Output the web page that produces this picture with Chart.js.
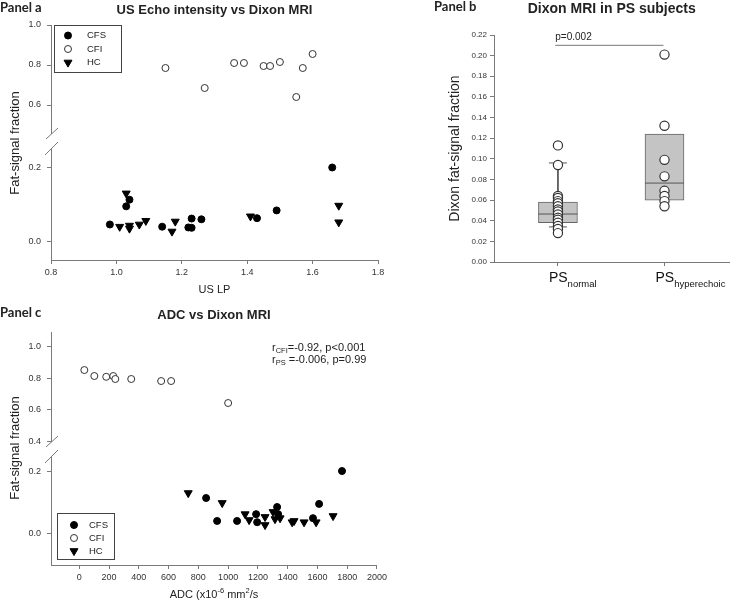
<!DOCTYPE html>
<html>
<head>
<meta charset="utf-8">
<title>US echo intensity, ADC and Dixon MRI</title>
<script src="https://cdn.jsdelivr.net/npm/chart.js@4.4.1/dist/chart.umd.min.js"></script>
<style>
  body { margin: 0; background: #fff; }
  #page { position: relative; width: 750px; height: 603px; overflow: hidden; }
  canvas { position: absolute; }
  #chartA { left: 0; top: 0; }
  #chartB { left: 380px; top: 0; }
  #chartC { left: 0; top: 305px; }
</style>
</head>
<body>
<div id="page">
  <canvas id="chartA" width="390" height="305"></canvas>
  <canvas id="chartB" width="370" height="300"></canvas>
  <canvas id="chartC" width="390" height="298"></canvas>
</div>
<script>
// ---- data ----

// panel a: US LP vs fat-signal fraction
let aCfsX = [0.98, 1.03, 1.04, 1.14, 1.22, 1.23, 1.23, 1.26, 1.43, 1.49, 1.66];
let aCfsY = [0.046, 0.095, 0.113, 0.040, 0.038, 0.037, 0.062, 0.060, 0.063, 0.084, 0.200];
let aCfiX = [1.15, 1.27, 1.36, 1.39, 1.45, 1.47, 1.50, 1.55, 1.57, 1.60];
let aCfiY = [0.785, 0.685, 0.81, 0.81, 0.795, 0.795, 0.815, 0.64, 0.785, 0.855];
let aHcX = [1.01, 1.03, 1.04, 1.04, 1.07, 1.09, 1.17, 1.18, 1.41, 1.68, 1.68];
let aHcY = [0.040, 0.130, 0.043, 0.035, 0.046, 0.056, 0.027, 0.054, 0.068, 0.097, 0.052];
let aXTicks = [0.8, 1.0, 1.2, 1.4, 1.6, 1.8];
let aYTicksHigh = [0.6, 0.8, 1.0];
let aYTicksLow = [0.0, 0.2];

// panel b: Dixon fat-signal fraction in PS subjects
let bGroups = ["normal", "hyperechoic"];
let bNormal = [0.113, 0.094, 0.064, 0.062, 0.059, 0.057, 0.054, 0.051, 0.049, 0.046, 0.043, 0.041, 0.038, 0.035, 0.032, 0.028];
let bHyper = [0.201, 0.132, 0.099, 0.083, 0.069, 0.064, 0.059, 0.054];
let bQ1 = [0.038, 0.060];
let bQ3 = [0.058, 0.124];
let bMedian = [0.0465, 0.0765];
let bWhiskLo = [0.034, null];
let bWhiskHi = [0.096, null];
let bPText = "p=0.002";
let bPLineX = [0.975, 1.99];
let bPLineY = 0.21;
let bYTicks = [0, 0.02, 0.04, 0.06, 0.08, 0.10, 0.12, 0.14, 0.16, 0.18, 0.20, 0.22];

// panel c: ADC vs fat-signal fraction
let cCfsX = [852, 926, 1060, 1188, 1195, 1329, 1336, 1570, 1611, 1765];
let cCfsY = [0.113, 0.039, 0.039, 0.061, 0.035, 0.084, 0.061, 0.048, 0.094, 0.200];
let cCfiX = [34, 101, 181, 228, 242, 349, 550, 617, 1000];
let cCfiY = [0.853, 0.815, 0.81, 0.815, 0.796, 0.796, 0.783, 0.783, 0.643];
let cHcX = [732, 960, 1114, 1141, 1248, 1248, 1302, 1315, 1349, 1430, 1443, 1510, 1591, 1705];
let cHcY = [0.129, 0.097, 0.061, 0.042, 0.052, 0.026, 0.068, 0.045, 0.048, 0.035, 0.039, 0.035, 0.035, 0.055];
let cXTicks = [0, 200, 400, 600, 800, 1000, 1200, 1400, 1600, 1800, 2000];
let cYTicksHigh = [0.4, 0.6, 0.8, 1.0];
let cYTicksLow = [0.0, 0.2];

// ---- styles ----
const SANS = "'Liberation Sans', Arial, sans-serif";
const AXIS = "#7a7a7a";
Chart.defaults.font.family = SANS;
Chart.defaults.color = "#333";
Chart.defaults.animation = false;

const marks = {
   cfs: { pointStyle: "circle", pointRadius: 3.5, backgroundColor: "#000", borderColor: "#000", borderWidth: 1 },
   cfi: { pointStyle: "circle", pointRadius: 3.5, backgroundColor: "#fff", borderColor: "#333", borderWidth: 1 },
   hc: { pointStyle: "triangle", pointRotation: 180, pointRadius: 4.6, backgroundColor: "#000", borderColor: "#000", borderWidth: 1 },
};

let pairs = (xs, ys) => xs.map((x, i) => ({ x: x, y: ys[i] }));

// linear axis with outward tick marks and fixed size
function linAxis(o) {
   return {
      type: "linear",
      position: o.position,
      min: o.min,
      max: o.max,
      stack: o.stack,
      stackWeight: o.weight,
      offset: false,
      border: { color: AXIS, width: 1 },
      grid: { drawOnChartArea: false, drawTicks: true, tickLength: 4, color: AXIS, tickColor: AXIS, offset: false },
      ticks: {
         display: o.labels !== false,
         autoSkip: false,
         maxRotation: 0,
         padding: o.pad === undefined ? 3 : o.pad,
         font: { size: o.fs || 9 },
         color: "#333",
         callback: o.fmt,
      },
      title: o.title || { display: false },
      afterBuildTicks: (scale) => {
         scale.ticks = o.ticks.map((v) => ({ value: v }));
      },
      afterFit: (scale) => {
         if (o.position === "left") scale.width = o.size;
         else scale.height = o.size;
      },
   };
}

// text with optional sub/superscript parts
function drawRich(ctx, parts, x, y, align, rotate) {
   ctx.save();
   ctx.translate(x, y);
   if (rotate) ctx.rotate(rotate);
   ctx.textBaseline = "middle";
   ctx.textAlign = "left";
   let total = 0;
   parts.forEach((p) => {
      ctx.font = p.font;
      p.w = ctx.measureText(p.t).width;
      total += p.w;
   });
   let cx = align === "center" ? -total / 2 : 0;
   parts.forEach((p) => {
      ctx.font = p.font;
      ctx.fillStyle = p.color || "#222";
      ctx.fillText(p.t, cx, p.dy || 0);
      cx += p.w;
   });
   ctx.restore();
}

const figText = {
   id: "figText",
   afterDraw(chart, args, opts) {
      (opts.items || []).forEach((it) => {
         let pos = typeof it.at === "function" ? it.at(chart) : it.at;
         drawRich(chart.ctx, it.parts, pos[0], pos[1], it.align, it.rotate);
      });
   },
};

// broken y axis: gap + two slashes where the stacked scales meet
const axisBreak = {
   id: "axisBreak",
   afterDraw(chart, args, opts) {
      if (!opts.upper) return;
      let hi = chart.scales[opts.upper];
      let x = hi.right;
      let yj = hi.bottom;
      let ctx = chart.ctx;
      ctx.save();
      ctx.fillStyle = "#fff";
      ctx.fillRect(x - 3, yj - 7, 6, 15);
      ctx.strokeStyle = AXIS;
      ctx.lineWidth = 1;
      ctx.beginPath();
      ctx.moveTo(x - 5, yj - 2);
      ctx.lineTo(x + 7, yj - 13);
      ctx.moveTo(x - 6, yj + 14);
      ctx.lineTo(x + 7, yj + 1);
      ctx.stroke();
      ctx.restore();
   },
};

// framed legend built from the datasets
const frameLegend = {
   id: "frameLegend",
   afterDraw(chart, args, opts) {
      if (!opts.frame) return;
      let ctx = chart.ctx;
      let f = opts.frame;
      ctx.save();
      ctx.strokeStyle = "#444";
      ctx.lineWidth = 1;
      ctx.strokeRect(f[0] + 0.5, f[1] + 0.5, f[2], f[3]);
      let row = 0;
      chart.data.datasets.forEach((ds) => {
         if (!ds.label) return;
         let y = opts.rowY + row * opts.rowDy;
         ctx.fillStyle = ds.backgroundColor;
         ctx.strokeStyle = ds.borderColor;
         ctx.lineWidth = ds.borderWidth;
         Chart.helpers.drawPoint(ctx, { pointStyle: ds.pointStyle, rotation: ds.pointRotation || 0, radius: ds.pointRadius, borderWidth: ds.borderWidth }, opts.markX, y);
         ctx.fillStyle = "#222";
         ctx.font = "9.5px " + SANS;
         ctx.textAlign = "left";
         ctx.textBaseline = "middle";
         ctx.fillText(ds.label, opts.textX, y);
         row++;
      });
      ctx.restore();
   },
};

let plotCenter = (y) => (c) => [(c.chartArea.left + c.chartArea.right) / 2, y];
let fmt1 = (v) => v.toFixed(1);

// ---- panel a ----
// stacked y scales: the one listed first ends up at the bottom
new Chart("chartA", {
   type: "scatter",
   data: {
      datasets: [
         { label: "CFS", data: pairs(aCfsX, aCfsY), yAxisID: "yLow", ...marks.cfs },
         { label: "CFI", data: pairs(aCfiX, aCfiY), yAxisID: "yHigh", ...marks.cfi },
         { label: "HC", data: pairs(aHcX, aHcY), yAxisID: "yLow", ...marks.hc },
      ],
   },
   options: {
      responsive: false,
      layout: { padding: { left: 0, top: 25, right: 12, bottom: 0 } },
      scales: {
         x: linAxis({ position: "bottom", min: 0.8, max: 1.8, ticks: aXTicks, fmt: fmt1, size: 45, pad: 3 }),
         yLow: linAxis({ position: "left", stack: "a", weight: 119, min: -0.05, max: 0.2716, ticks: aYTicksLow, fmt: fmt1, size: 51, pad: 6 }),
         yHigh: linAxis({ position: "left", stack: "a", weight: 116, min: 0.42, max: 1.0, ticks: aYTicksHigh, fmt: fmt1, size: 51, pad: 6 }),
      },
      plugins: {
         legend: { display: false },
         tooltip: { enabled: false },
         axisBreak: { upper: "yHigh" },
         frameLegend: { frame: [54, 25, 67, 47], markX: 68, textX: 87, rowY: 35.5, rowDy: 13.5 },
         figText: {
            items: [
               { at: [0, 8], parts: [{ t: "Panel a", font: "bold 13px Lato" }] },
               { at: plotCenter(10), align: "center", parts: [{ t: "US Echo intensity vs Dixon MRI", font: "bold 13px " + SANS }] },
               { at: [15, 143], align: "center", rotate: -Math.PI / 2, parts: [{ t: "Fat-signal fraction", font: "13px " + SANS }] },
               { at: plotCenter(290), align: "center", parts: [{ t: "US LP", font: "11px " + SANS }] },
            ],
         },
      },
   },
   plugins: [axisBreak, frameLegend, figText],
});

// ---- panel b ----
let openBig = { pointStyle: "circle", pointRadius: 4.6, backgroundColor: "#fff", borderColor: "#333", borderWidth: 1.2 };

new Chart("chartB", {
   type: "scatter",
   data: {
      datasets: [
         {
            type: "bar",
            data: bQ1.map((q, i) => ({ x: i + 1, y: [q, bQ3[i]] })),
            backgroundColor: "#c4c4c4",
            borderColor: "#666",
            borderWidth: 1,
            borderSkipped: false,
            barThickness: 39,
            order: 5,
         },
         {
            type: "line",
            data: [
               { x: 1, y: bWhiskHi[0] },
               { x: 1, y: bQ3[0] },
               { x: 1, y: null },
               { x: 1, y: bQ1[0] },
               { x: 1, y: bWhiskLo[0] },
            ],
            borderColor: "#555",
            borderWidth: 1,
            pointRadius: 0,
            spanGaps: false,
            order: 4,
         },
         {
            data: [{ x: 1, y: bWhiskHi[0] }, { x: 1, y: bWhiskLo[0] }],
            pointStyle: "line",
            pointRadius: 9,
            borderColor: "#555",
            borderWidth: 1,
            order: 3,
         },
         {
            data: bMedian.map((m, i) => ({ x: i + 1, y: m })),
            pointStyle: "line",
            pointRadius: 19.5,
            borderColor: "#555",
            borderWidth: 1,
            order: 2,
         },
         {
            type: "line",
            data: [{ x: bPLineX[0], y: bPLineY }, { x: bPLineX[1], y: bPLineY }],
            borderColor: "#777",
            borderWidth: 1,
            pointRadius: 0,
            order: 2,
         },
         { data: bNormal.map((v) => ({ x: 1, y: v })), ...openBig, order: 0 },
         { data: bHyper.map((v) => ({ x: 2, y: v })), ...openBig, order: 0 },
      ],
   },
   options: {
      responsive: false,
      layout: { padding: { left: 63, top: 35, right: 0, bottom: 0 } },
      scales: {
         x: linAxis({ position: "bottom", min: 0.4, max: 2.61, ticks: [1, 2], labels: false, size: 38 }),
         y: linAxis({
            position: "left",
            min: 0,
            max: 0.22,
            ticks: bYTicks,
            fmt: (v) => v.toFixed(2),
            fs: 8,
            size: 51,
            pad: 3,
            title: { display: true, text: "Dixon fat-signal fraction", font: { size: 14 }, color: "#222", padding: { top: 4, bottom: 4 } },
         }),
      },
      plugins: {
         legend: { display: false },
         tooltip: { enabled: false },
         figText: {
            items: [
               { at: [54, 7], parts: [{ t: "Panel b", font: "bold 13px Lato" }] },
               { at: plotCenter(9), align: "center", parts: [{ t: "Dixon MRI in PS subjects", font: "bold 14px " + SANS }] },
               {
                  at: (c) => [c.scales.x.getPixelForValue(bPLineX[0]), c.scales.y.getPixelForValue(bPLineY) - 8],
                  parts: [{ t: bPText, font: "10px " + SANS }],
               },
            ].concat(
               bGroups.map((g, i) => ({
                  at: (c) => [c.scales.x.getPixelForValue(i + 1) - 9, 278],
                  parts: [
                     { t: "PS", font: "14px " + SANS, color: "#111" },
                     { t: g, font: "9.5px " + SANS, dy: 6, color: "#111" },
                  ],
               }))
            ),
         },
      },
   },
   plugins: [figText],
});

// ---- panel c ----
new Chart("chartC", {
   type: "scatter",
   data: {
      datasets: [
         { label: "CFS", data: pairs(cCfsX, cCfsY), yAxisID: "yLow", ...marks.cfs },
         { label: "CFI", data: pairs(cCfiX, cCfiY), yAxisID: "yHigh", ...marks.cfi },
         { label: "HC", data: pairs(cHcX, cHcY), yAxisID: "yLow", ...marks.hc },
      ],
   },
   options: {
      responsive: false,
      layout: { padding: { left: 0, top: 27, right: 13, bottom: 0 } },
      scales: {
         x: linAxis({ position: "bottom", min: -190, max: 2000, ticks: cXTicks, fmt: (v) => String(v), size: 38, pad: 3 }),
         yLow: linAxis({ position: "left", stack: "c", weight: 116, min: -0.103, max: 0.271, ticks: cYTicksLow, fmt: fmt1, size: 51, pad: 6 }),
         yHigh: linAxis({ position: "left", stack: "c", weight: 117, min: 0.35, max: 1.0955, ticks: cYTicksHigh, fmt: fmt1, size: 51, pad: 6 }),
      },
      plugins: {
         legend: { display: false },
         tooltip: { enabled: false },
         axisBreak: { upper: "yHigh" },
         frameLegend: { frame: [57, 208, 57, 46], markX: 74, textX: 89, rowY: 220, rowDy: 13 },
         figText: {
            items: [
               { at: [0, 8], parts: [{ t: "Panel c", font: "bold 13px Lato" }] },
               { at: plotCenter(10), align: "center", parts: [{ t: "ADC vs Dixon MRI", font: "bold 13px " + SANS }] },
               { at: [15, 143], align: "center", rotate: -Math.PI / 2, parts: [{ t: "Fat-signal fraction", font: "13px " + SANS }] },
               {
                  at: plotCenter(290),
                  align: "center",
                  parts: [
                     { t: "ADC (x10", font: "11px " + SANS },
                     { t: "-6", font: "7.5px " + SANS, dy: -4 },
                     { t: " mm", font: "11px " + SANS },
                     { t: "2", font: "7.5px " + SANS, dy: -4 },
                     { t: "/s", font: "11px " + SANS },
                  ],
               },
               {
                  at: [272, 43],
                  parts: [
                     { t: "r", font: "11px " + SANS },
                     { t: "CFI", font: "7.5px " + SANS, dy: 3 },
                     { t: "=-0.92, p<0.001", font: "11px " + SANS },
                  ],
               },
               {
                  at: [272, 55],
                  parts: [
                     { t: "r", font: "11px " + SANS },
                     { t: "PS", font: "7.5px " + SANS, dy: 3 },
                     { t: " =-0.006, p=0.99", font: "11px " + SANS },
                  ],
               },
            ],
         },
      },
   },
   plugins: [axisBreak, frameLegend, figText],
});
</script>
</body>
</html>
